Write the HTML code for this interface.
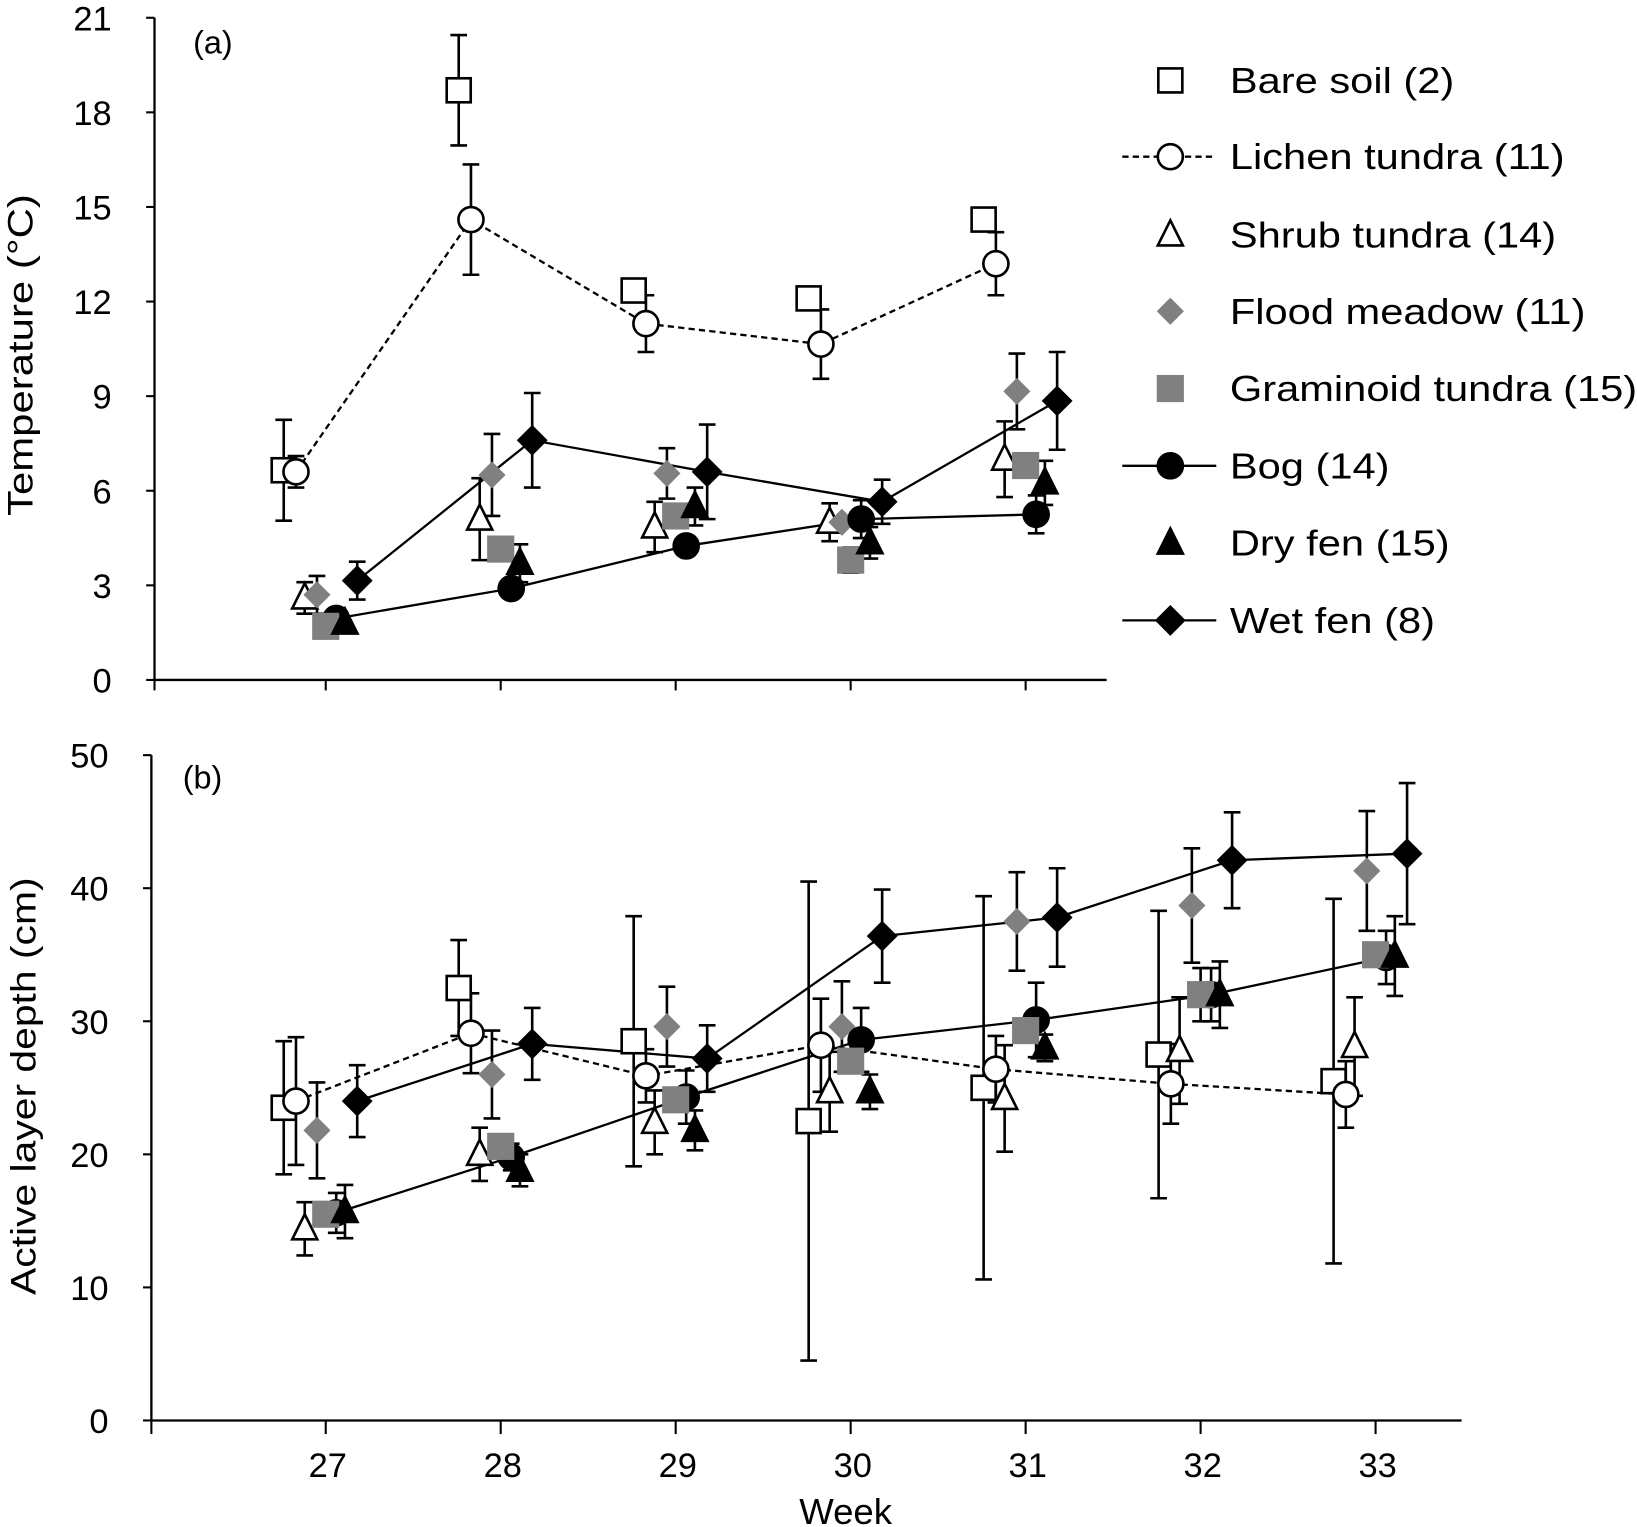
<!DOCTYPE html>
<html><head><meta charset="utf-8"><style>
html,body{margin:0;padding:0;background:#fff;}
svg{display:block;}
text{font-family:"Liberation Sans",sans-serif;fill:#000;}
</style></head><body>
<svg id="chart" width="1637" height="1527" viewBox="0 0 1568 1462" preserveAspectRatio="none" xmlns="http://www.w3.org/2000/svg">
<g id="axes"></g>
<g id="marks"></g>
<g id="legend"></g>
</svg>
<script>
const weeks = [27,28,29,30,31,32,33];
const tempTicks = [0,3,6,9,12,15,18,21];
const depthTicks = [0,10,20,30,40,50];
const seriesNames = ["Bare soil (2)","Lichen tundra (11)","Shrub tundra (14)","Flood meadow (11)","Graminoid tundra (15)","Bog (14)","Dry fen (15)","Wet fen (8)"];
// Panel (a): temperature, weeks 27-31
const tBare = [6.65,18.7,12.35,12.1,14.6];
const tBareErr = [1.6,1.75,0,0,0];
const tLichen = [6.6,14.6,11.3,10.65,13.2];
const tLichenErr = [0.5,1.75,0.9,1.1,1.0];
const tShrub = [2.6,5.1,4.85,5.0,7.0];
const tShrubErr = [0.5,1.3,0.8,0.6,1.2];
const tFlood = [2.7,6.5,6.55,5.0,9.15];
const tFloodErr = [0.6,1.3,0.8,0,1.2];
const tGram = [1.7,4.15,5.2,3.8,6.8];
const tGramErr = [0,0,0,0.4,0];
const tBog = [1.95,2.9,4.25,5.1,5.25];
const tBogErr = [0,0,0,0.6,0.6];
const tDry = [1.8,3.7,5.5,4.35,6.25];
const tDryErr = [0,0.6,0.6,0.5,0.7];
const tWet = [3.15,7.6,6.6,5.65,8.85];
const tWetErr = [0.6,1.5,1.5,0.7,1.55];
// Panel (b): active layer depth, weeks 27-33
const dBare = [23.5,32.5,28.5,22.5,25.0,27.5,25.5];
const dBareErr = [5.0,3.6,9.4,18.0,14.4,10.8,13.7];
const dLichen = [24.0,29.1,25.9,28.2,26.4,25.3,24.5];
const dLichenErr = [4.8,3.0,2.0,3.5,2.5,3.0,2.5];
const dShrub = [14.4,20.0,22.4,24.7,24.2,27.8,28.1];
const dShrubErr = [2.0,2.0,2.4,3.0,4.0,4.0,3.7];
const dFlood = [21.8,26.0,29.6,29.6,37.5,38.7,41.3];
const dFloodErr = [3.6,3.3,3.0,3.4,3.7,4.3,4.5];
const dGram = [15.5,20.6,24.1,27.0,29.3,32.0,35.0];
const dGramErr = [0,0,0,0,0,2.0,0];
const dBog = [15.6,19.8,24.3,28.6,30.1,32.0,34.8];
const dBogErr = [1.5,1.0,2.0,2.4,2.8,2.0,2.0];
const dDry = [15.7,18.8,21.8,24.7,28.0,32.0,34.9];
const dDryErr = [2.0,1.2,1.5,1.3,1.0,2.5,3.0];
const dWet = [24.0,28.3,27.2,36.4,37.8,42.1,42.6];
const dWetErr = [2.7,2.7,2.5,3.5,3.7,3.6,5.3];

const NS="http://www.w3.org/2000/svg";
const axesG=document.getElementById('axes'), marksG=document.getElementById('marks'), legG=document.getElementById('legend');
function el(tag,attrs,parent,txt){const e=document.createElementNS(NS,tag);for(const k in attrs)e.setAttribute(k,attrs[k]);if(txt!==undefined)e.textContent=txt;parent.appendChild(e);return e;}
function widen(e,f){const L=e.getComputedTextLength();e.setAttribute('textLength',L*f);e.setAttribute('lengthAdjust','spacingAndGlyphs');}
function xw(w){return 312+(w-27)*167.6;}
function yT(v){return 651-v*634/21;}
function yD(v){return 1360-v*12.74;}
const offs=[-0.24,-0.17,-0.12,-0.05,0,0.06,0.11,0.18];
const drawOrder=[0,1,2,3,5,4,6,7];
const styles=[
 {shape:'square',fill:'#fff'},{shape:'circle',fill:'#fff',line:'dash'},{shape:'triangle',fill:'#fff'},
 {shape:'diamond',fill:'#808080',stroke:'none'},{shape:'square',fill:'#808080',stroke:'none'},
 {shape:'circle',fill:'#000',line:'solid'},{shape:'triangle',fill:'#000'},{shape:'diamond',fill:'#000',line:'solid'}];
function marker(s,x,y,parent){
 const st=s.stroke==='none'?'none':'#000';const sw=2.5;let e;
 if(s.shape==='square'){const h=s.stroke==='none'?13:11.5;e=el('rect',{x:x-h,y:y-h,width:2*h,height:2*h,fill:s.fill,stroke:st,'stroke-width':sw},parent);}
 else if(s.shape==='circle'){e=el('circle',{cx:x,cy:y,r:12,fill:s.fill,stroke:st,'stroke-width':sw},parent);}
 else if(s.shape==='triangle'){e=el('polygon',{points:`${x},${y-14} ${x+12},${y+10} ${x-12},${y+10}`,fill:s.fill,stroke:st,'stroke-width':sw},parent);}
 else {const r=13;e=el('polygon',{points:`${x},${y-r} ${x+r},${y} ${x},${y+r} ${x-r},${y}`,fill:s.fill,stroke:st,'stroke-width':sw},parent);}
 return e;
}
function drawPanel(key,yf,vals,errs,nW){
 const g=el('g',{},marksG);
 
 
 vals.forEach((arr,si)=>{
  const s=styles[si];
  const pts=arr.slice(0,nW).map((v,i)=>[xw(weeks[i]+offs[si]),yf(v)]);
  arr.slice(0,nW).forEach((v,i)=>{
   const e=errs[si][i]; if(!e) return;
   const x=xw(weeks[i]+offs[si]);
   const eb=el('path',{d:`M${x},${yf(v+e)}V${yf(v-e)}M${x-8},${yf(v+e)}H${x+8}M${x-8},${yf(v-e)}H${x+8}`,stroke:'#000','stroke-width':2.5,fill:'none'},g);
   
   
  });
  if(s.line){
   const ln=el('polyline',{points:pts.map(p=>p.join(',')).join(' '),fill:'none',stroke:'#000','stroke-width':2.2,'stroke-dasharray':s.line==='dash'?'6,4':'none'},g);
   
   
  }
 });
 drawOrder.forEach(si=>{
  vals[si].slice(0,nW).forEach((v,i)=>{
   const m=marker(styles[si],xw(weeks[i]+offs[si]),yf(v),g);
   
   
  });
 });
}
// Axes panel a
let a=el('path',{d:'M148,17V651M148,651H1060',stroke:'#000','stroke-width':2.2,fill:'none'},axesG);


tempTicks.forEach(t=>{
 const tk=el('path',{d:`M140,${yT(t)}H148`,stroke:'#000','stroke-width':2},axesG);
 
 
 const tl=el('text',{x:107,y:yT(t)+12,'font-size':33,'text-anchor':'end'},axesG,t);
 
 
});
[26,27,28,29,30,31].forEach(w=>{
 const x=w===26?148:xw(w);
 const tk=el('path',{d:`M${x},651V661`,stroke:'#000','stroke-width':2},axesG);
 
 
});
let t=el('text',{x:0,y:0,'font-size':34,'text-anchor':'middle',transform:'translate(31,340) rotate(-90)'},axesG,'Temperature (°C)');


widen(t,1.18);
t=el('text',{x:185,y:51,'font-size':31},axesG,'(a)');


// Axes panel b
a=el('path',{d:'M145,723V1360M145,1360H1400',stroke:'#000','stroke-width':2.2,fill:'none'},axesG);


depthTicks.forEach(v=>{
 const tk=el('path',{d:`M137,${yD(v)}H145`,stroke:'#000','stroke-width':2},axesG);
 
 
 const tl=el('text',{x:104,y:yD(v)+12,'font-size':33,'text-anchor':'end'},axesG,v);
 
 
});
[26].concat(weeks).forEach(w=>{
 const x=w===26?145:xw(w);
 const tk=el('path',{d:`M${x},1360V1373`,stroke:'#000','stroke-width':2},axesG);
 
 
 if(w!==26){const tl=el('text',{x:x+2,y:1414,'font-size':33,'text-anchor':'middle'},axesG,w);
 
 }
});
t=el('text',{x:0,y:0,'font-size':34,'text-anchor':'middle',transform:'translate(34,1040) rotate(-90)'},axesG,'Active layer depth (cm)');


widen(t,1.15);
t=el('text',{x:810,y:1459,'font-size':35,'text-anchor':'middle'},axesG,'Week');


t=el('text',{x:175,y:755,'font-size':31},axesG,'(b)');



drawPanel('temp',yT,[tBare,tLichen,tShrub,tFlood,tGram,tBog,tDry,tWet],[tBareErr,tLichenErr,tShrubErr,tFloodErr,tGramErr,tBogErr,tDryErr,tWetErr],5);
drawPanel('depth',yD,[dBare,dLichen,dShrub,dFlood,dGram,dBog,dDry,dWet],[dBareErr,dLichenErr,dShrubErr,dFloodErr,dGramErr,dBogErr,dDryErr,dWetErr],7);

// Legend
const legY=[77,150,225,298,372,446,520,594];
seriesNames.forEach((n,i)=>{
 const g=el('g',{},legG);
 
 
 const s=styles[i];
 if(s.line) el('path',{d:`M1075,${legY[i]}H1165`,stroke:'#000','stroke-width':2.2,'stroke-dasharray':s.line==='dash'?'6,4':'none'},g);
 marker(s,1121,legY[i],g);
 const tx=el('text',{x:1178,y:legY[i]+12,'font-size':35},g,n);
 widen(tx,1.14);
});
</script>
</body></html>
